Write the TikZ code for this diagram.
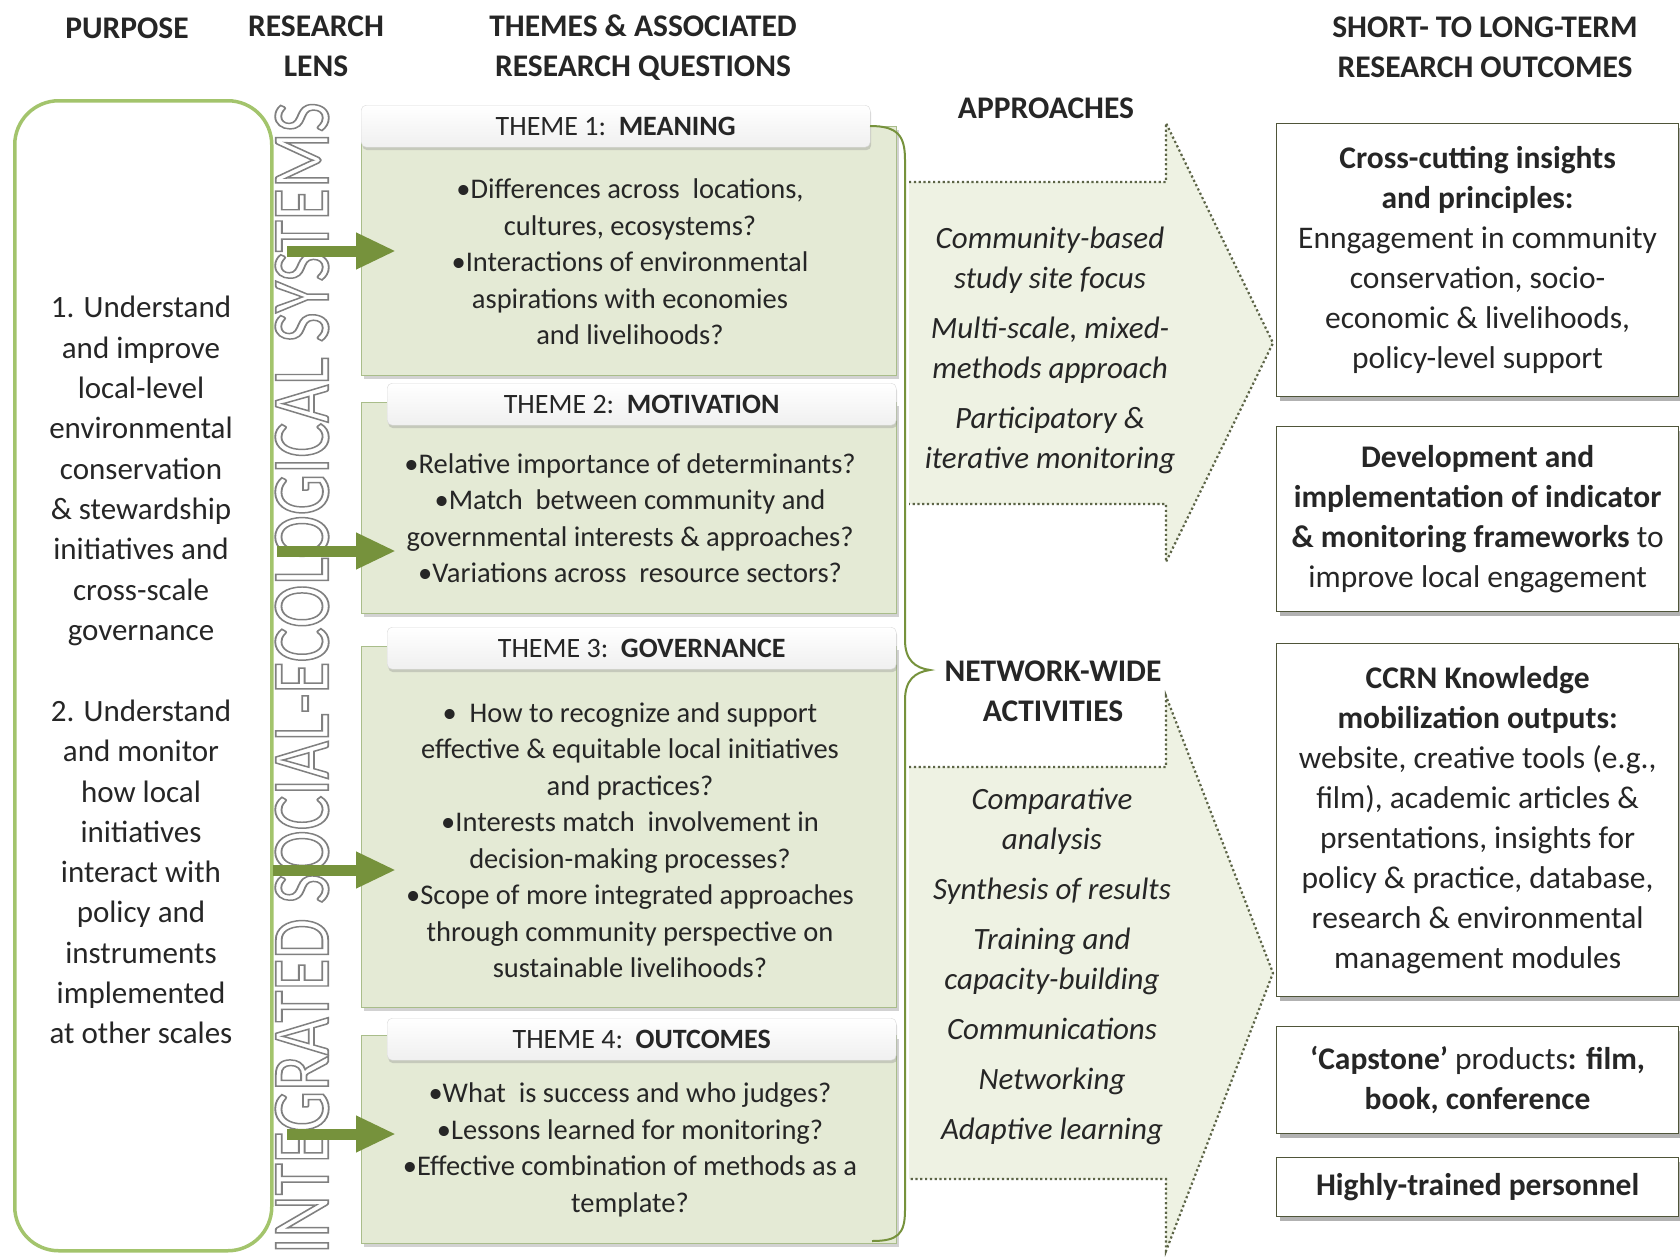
\documentclass[tikz,border=0pt]{standalone}
\usepackage{fontspec}
\setmainfont{Carlito}
\usetikzlibrary{arrows.meta,positioning,calc,shadows}
\definecolor{ink}{HTML}{262626}
\definecolor{leafgreen}{HTML}{76923C}
\definecolor{purposeline}{HTML}{A3C46C}
\definecolor{themefill}{HTML}{E4EAD5}
\definecolor{themeline}{HTML}{A9BD8A}
\definecolor{arrowfill}{HTML}{EEF2E3}
\definecolor{dotgray}{HTML}{5C6446}
\definecolor{boxline}{HTML}{4F5539}
\definecolor{lensgray}{HTML}{808080}
\newcommand{\hollowtext}[1]{\special{pdf:literal direct 1 Tr 1.8 w}#1\special{pdf:literal direct 0 Tr}}
\tikzset{colhead/.style={font=\bfseries\fontsize{31.5}{40}\selectfont,align=center,text=ink,inner sep=0pt}, purposebox/.style={draw=purposeline,line width=3.5pt,rounded corners=44pt,inner sep=0pt,anchor=north west}, aimtext/.style={font=\fontsize{31}{40.3}\selectfont,align=center,text=ink,inner sep=0pt}, themebody/.style={draw=themeline,fill=themefill,line width=1pt,drop shadow={opacity=0.35,shadow xshift=2pt,shadow yshift=-3pt},minimum width=535pt,inner sep=0pt,anchor=north west}, themehead/.style={draw=black!15,top color=white,bottom color=black!6,rounded corners=5pt,drop shadow={opacity=0.3,shadow xshift=1pt,shadow yshift=-3pt},minimum width=509pt,minimum height=42pt,font=\fontsize{28}{30}\selectfont,text=ink,inner sep=0pt,anchor=north west}, question/.style={font=\fontsize{28.5}{36.5}\selectfont,align=center,text=ink,inner sep=0pt}, lensarrow/.style={-{Triangle[width=34pt,length=40pt]},line width=11pt,draw=leafgreen}, dotline/.style={draw=dotgray,line width=2.2pt,dash pattern=on 2.2pt off 2.6pt}, approach/.style={font=\itshape\fontsize{31}{40}\selectfont,align=center,text=ink,inner sep=0pt}, outcome/.style={draw=boxline,fill=white,line width=1.2pt,drop shadow={opacity=0.6,shadow xshift=3pt,shadow yshift=-4pt},minimum width=402pt,align=center,font=\fontsize{31.5}{40}\selectfont,text=ink,inner sep=0pt,anchor=north west}}

\begin{document}
\begin{tikzpicture}[x=1pt,y=-1pt]
\useasboundingbox (0,0) rectangle (1680,1256);
\fill[white] (0,0) rectangle (1680,1256);
% column headings
\node[colhead] (hpurpose) at (127,28) {PURPOSE};
\node[colhead] (hlens) at (316,46) {RESEARCH\\LENS};
\node[colhead] (hthemes) at (643,48) {THEMES \& ASSOCIATED\\RESEARCH QUESTIONS};
\node[colhead] (hout) at (1485,47) {SHORT- TO LONG-TERM\\RESEARCH OUTCOMES};
% purpose
\node[purposebox,minimum width=257pt,minimum height=1150pt] (purpose) at (13,99) {};
\node[aimtext] (aim1) at (141,471) {1. Understand\\and improve\\local-level\\environmental\\conservation\\\& stewardship\\initiatives and\\cross-scale\\governance};
\node[aimtext] (aim2) at (141,872) {2. Understand\\and monitor\\how local\\initiatives\\interact with\\policy and\\instruments\\implemented\\at other scales};
% research lens
\node[rotate=90,inner sep=0pt,text=lensgray] (lens) at (302,678) {\resizebox{1152pt}{53pt}{\fontsize{80}{80}\selectfont\hollowtext{INTEGRATED SOCIAL-ECOLOGICAL SYSTEMS}}};
% themes
\node[themebody,minimum height=249pt] (t1body) at (361,126) {};
\node[themehead] (t1head) at (361,105) {THEME\ 1:\ \ \textbf{MEANING}};
\node[question] (t1text) at (630,262) {\textbullet Differences across\ \ locations,\\cultures, ecosystems?\\\textbullet Interactions of environmental\\aspirations with economies\\and livelihoods?};
\node[themebody,minimum height=211pt] (t2body) at (361,402) {};
\node[themehead] (t2head) at (387,383) {THEME\ 2:\ \ \textbf{MOTIVATION}};
\node[question] (t2text) at (630,518) {\textbullet Relative importance of determinants?\\\textbullet Match\ \ between community and\\governmental interests \& approaches?\\\textbullet Variations across\ \ resource sectors?};
\node[themebody,minimum height=361pt] (t3body) at (361,646) {};
\node[themehead] (t3head) at (387,627) {THEME\ 3:\ \ \textbf{GOVERNANCE}};
\node[question] (t3text) at (630,840) {\textbullet\ \ How to recognize and support\\effective \& equitable local initiatives\\and practices?\\\textbullet Interests match\ \ involvement in\\decision-making processes?\\\textbullet Scope of more integrated approaches\\through community perspective on\\sustainable livelihoods?};
\node[themebody,minimum height=208pt] (t4body) at (361,1035) {};
\node[themehead] (t4head) at (387,1018) {THEME\ 4:\ \ \textbf{OUTCOMES}};
\node[question] (t4text) at (630,1150) {\textbullet What\ \ is success and who judges?\\\textbullet Lessons learned for monitoring?\\\textbullet Effective combination of methods as a\\template?};
% lens arrows
\coordinate (ls1) at (287,251); \coordinate (lt1) at (396,251);
\coordinate (ls2) at (277,551); \coordinate (lt2) at (396,551);
\coordinate (ls3) at (273,870); \coordinate (lt3) at (396,870);
\coordinate (ls4) at (287,1134); \coordinate (lt4) at (396,1134);
\draw[lensarrow] (ls1) -- (lt1);
\draw[lensarrow] (ls2) -- (lt2);
\draw[lensarrow] (ls3) -- (lt3);
\draw[lensarrow] (ls4) -- (lt4);
% approaches and activities arrows
\fill[arrowfill] (909,182) -- (1166,182) -- (1166,123) -- (1273,343) -- (1166,562) -- (1166,504) -- (909,504) -- cycle;
\draw[dotline] (909,182) -- (1166,182) -- (1166,123) -- (1273,343) -- (1166,562) -- (1166,504) -- (909,504);
\fill[arrowfill] (909,767) -- (1166,767) -- (1166,696) -- (1273,973) -- (1166,1251) -- (1166,1179) -- (909,1179) -- cycle;
\draw[dotline] (909,767) -- (1166,767) -- (1166,696) -- (1273,973) -- (1166,1251) -- (1166,1179) -- (909,1179);
\node[colhead] (happr) at (1046,108) {APPROACHES};
\node[colhead] (hact) at (1053,691) {NETWORK-WIDE\\ACTIVITIES};
\node[approach] (appr) at (1050,350) {Community-based\\study site focus\\[10pt]Multi-scale, mixed-\\methods approach\\[10pt]Participatory \&\\iterative monitoring};
\node[approach] (act) at (1052,966) {Comparative\\analysis\\[10pt]Synthesis of results\\[10pt]Training and\\capacity-building\\[10pt]Communications\\[10pt]Networking\\[10pt]Adaptive learning};
% brace
\draw[leafgreen,line width=2pt] (870,126) .. controls (898,126) and (905,136) .. (905,160) -- (905,640) .. controls (905,660) and (915,668) .. (930,670) .. controls (915,672) and (905,680) .. (905,700) -- (905,1210) .. controls (905,1234) and (898,1241) .. (872,1241);
% outcomes
\node[outcome,minimum height=273pt] (o1) at (1276,123) {\textbf{Cross-cutting insights}\\\textbf{and principles:}\\Enngagement in community\\conservation, socio-\\economic \& livelihoods,\\policy-level support};
\node[outcome,minimum height=185pt] (o2) at (1276,426) {\textbf{Development and}\\\textbf{implementation of indicator}\\\textbf{\& monitoring frameworks} to\\improve local engagement};
\node[outcome,minimum height=353pt] (o3) at (1276,643) {\textbf{CCRN Knowledge}\\\textbf{mobilization outputs:}\\website, creative tools (e.g.,\\film), academic articles \&\\prsentations, insights for\\policy \& practice, database,\\research \& environmental\\management modules};
\node[outcome,minimum height=107pt] (o4) at (1276,1026) {\textbf{‘Capstone’} products\textbf{: film,}\\\textbf{book, conference}};
\node[outcome,minimum height=59pt] (o5) at (1276,1157) {\textbf{Highly-trained personnel}};
\end{tikzpicture}
\end{document}
